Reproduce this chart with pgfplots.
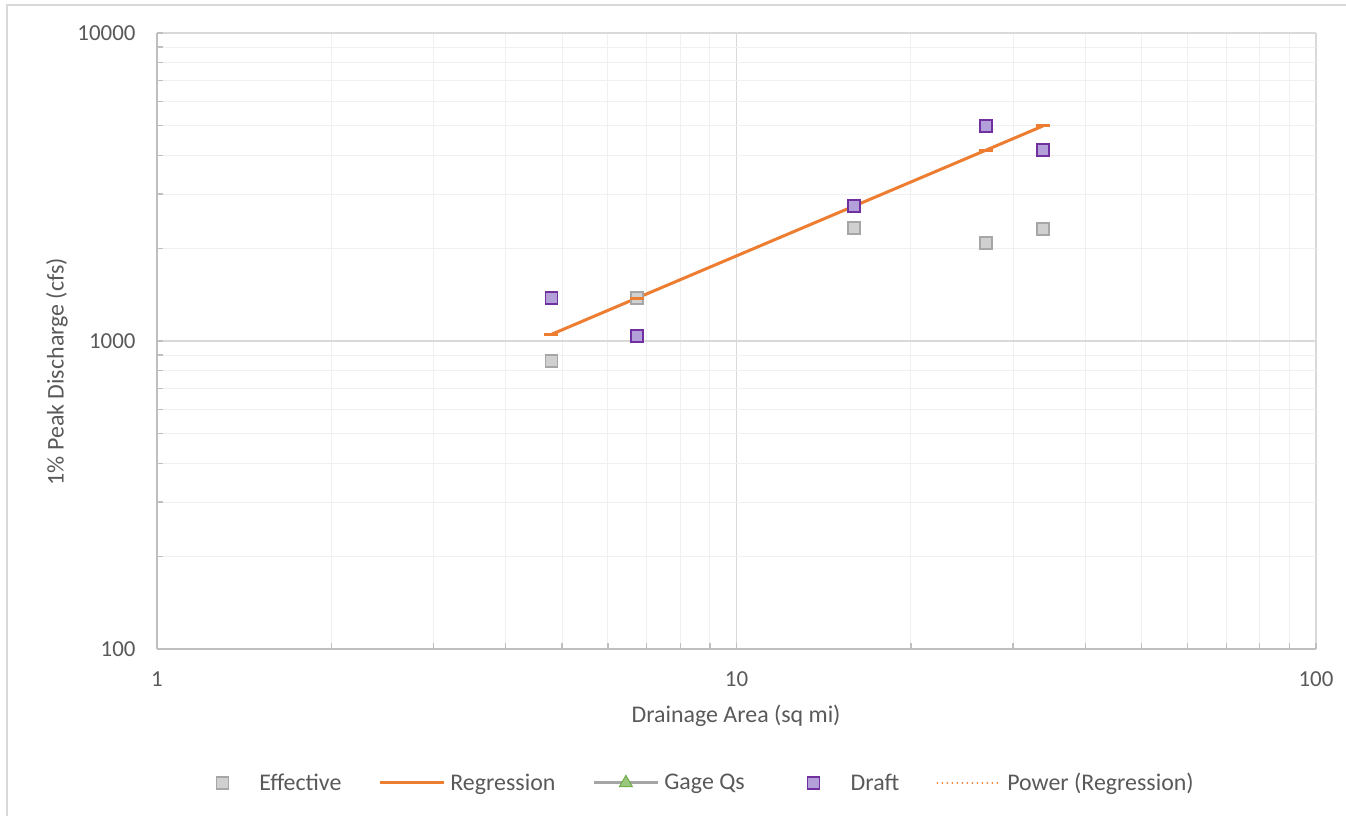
\documentclass[border=0pt]{standalone}
\usepackage{pgfplots}
\pgfplotsset{compat=1.18}
\usepackage{fontspec}
\setmainfont{Carlito}
\definecolor{txt}{HTML}{595959}
\definecolor{majg}{HTML}{D9D9D9}
\definecolor{ming}{HTML}{F0F0F0}
\definecolor{axg}{HTML}{BFBFBF}
\definecolor{orng}{HTML}{ED7D31}
\definecolor{effF}{HTML}{D0D0D0}
\definecolor{effD}{HTML}{A6A6A6}
\definecolor{drF}{HTML}{B4A0D8}
\definecolor{drD}{HTML}{7030A0}
\definecolor{gageG}{HTML}{70AD47}
\definecolor{gageL}{HTML}{A5A5A5}
\pgfplotsset{
  lineleg/.style={legend image code/.code={\draw[mark repeat=2,mark phase=2,##1] plot coordinates {(0bp,0bp) (32bp,0bp) (64bp,0bp)};}},
  markleg/.style={legend image code/.code={\path[draw=none,fill=none] (0bp,0bp) -- (64bp,0bp); \draw[mark repeat=1,mark phase=1,##1] plot coordinates {(32bp,0bp)};}},
}
\begin{document}
\begin{tikzpicture}
\begin{axis}[
  scale only axis, width=1159bp, height=616bp,
  xmode=log, ymode=log,
  xmin=1, xmax=100, ymin=100, ymax=10000,
  xtick={1,10,100}, xticklabels={1,10,100},
  ytick={100,1000,10000}, yticklabels={100,1000,10000},
  /pgf/number format/assume math mode=true,
  font=\fontsize{24}{28}\selectfont,
  tick label style={text=txt, font=\fontsize{23}{27}\selectfont},
  xticklabel style={yshift=-19bp},
  yticklabel style={xshift=-18bp},
  axis lines=left, axis line style={axg, line width=1.5bp, -},
  tick align=inside, major tick length=6bp, minor tick length=6bp,
  tick style={axg, line width=1.2bp},
  grid=both,
  major grid style={majg, line width=1.5bp},
  minor grid style={ming, line width=1bp},
  xlabel={Drainage Area (sq mi)}, ylabel={1\% Peak Discharge (cfs)},
  label style={text=txt},
  xlabel style={at={(axis description cs:0.4996,-0.1088)}, anchor=center},
  ylabel style={at={(axis description cs:-0.0863,0.45)}, anchor=center, rotate=0},
  legend columns=5,
  legend style={draw=none, fill=none, at={(axis description cs:0.4625,-0.2175)}, anchor=center,
    font=\fontsize{24}{28}\selectfont, text=txt,
    /tikz/every odd column/.append style={column sep=3bp},
    /tikz/every even column/.append style={column sep=35bp}},
  legend cell align=left,
  clip=false,
]
% Effective
\addplot[markleg, only marks, mark=square*, mark size=6bp, mark options={fill=effF, draw=effD, line width=1.5bp}]
  coordinates {(4.79,861) (6.73,1380) (15.95,2327) (26.95,2080) (33.8,2310)};
\addlegendentry{Effective}
% Regression
\addplot[lineleg, orng, line width=3bp, mark=-, mark size=7bp, mark options={line width=3bp}]
  coordinates {(4.79,1050) (6.73,1378) (15.95,2741) (26.95,4165) (33.8,4990)};
\addlegendentry{Regression}
% Gage Qs (no data)
\addlegendimage{lineleg, gageL, line width=3bp, mark=triangle*, mark size=7.5bp, mark options={fill=gageG!70, draw=gageG, line width=1bp}}
\addlegendentry{Gage Qs}
% Draft
\addplot[markleg, only marks, mark=square*, mark size=6bp, mark options={fill=drF, draw=drD, line width=1.5bp}]
  coordinates {(4.79,1380) (6.73,1038) (15.95,2745) (26.95,4990) (33.8,4170)};
\addlegendentry{Draft}
% Power trend
\addplot[lineleg, orng, line width=2bp, line cap=round, dash pattern=on 0bp off 5bp]
  coordinates {(4.79,1050) (6.73,1378) (15.95,2741) (26.95,4165) (33.8,4990)};
\addlegendentry{Power (Regression)}
\end{axis}
\path[use as bounding box] ([xshift=-157bp,yshift=-167bp]current axis.south west) rectangle ([xshift=30bp,yshift=33bp]current axis.north east);
\draw[majg, line width=1.5bp] ([xshift=-150bp,yshift=-170bp]current axis.south west) -- ([xshift=-150bp,yshift=28bp]current axis.north west) -- ([xshift=40bp,yshift=28bp]current axis.north east);
\end{tikzpicture}
\end{document}
